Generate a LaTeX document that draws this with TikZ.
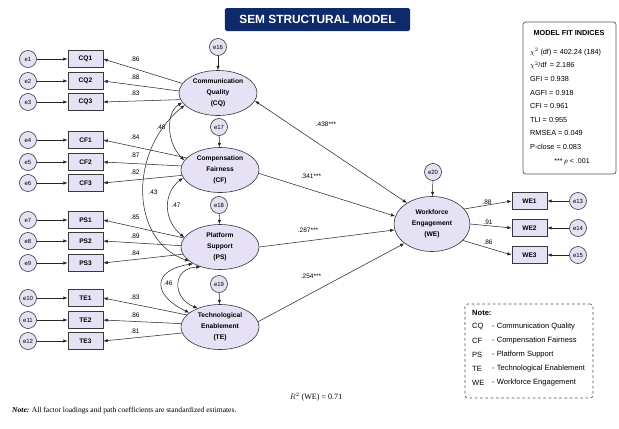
\documentclass[tikz,border=0pt]{standalone}
\usepackage{fontspec}
\setmainfont{Liberation Serif}
\setsansfont{Liberation Sans}
\usetikzlibrary{arrows.meta,shapes.geometric,calc}
\definecolor{lav}{HTML}{E6E1F5}
\definecolor{navy}{HTML}{0E2A6B}
\definecolor{edgec}{HTML}{3A3A3A}
\begin{document}
\begin{tikzpicture}[x=0.04cm,y=-0.04cm,
 >={Latex[length=5pt,width=3.8pt]},
 lat/.style={ellipse,draw=edgec,fill=lav,line width=0.7pt,minimum width=3.12cm,minimum height=1.8cm,inner sep=0pt,align=center,font=\sffamily\bfseries\fontsize{7.6}{12.5}\selectfont},
 obs/.style={rectangle,draw=edgec,fill=lav,line width=0.7pt,minimum width=1.4cm,minimum height=0.7cm,inner sep=0pt,font=\sffamily\bfseries\fontsize{7.5}{8}\selectfont},
 err/.style={circle,draw=edgec,fill=lav,line width=0.7pt,minimum size=0.68cm,inner sep=0pt,font=\sffamily\fontsize{6.8}{7}\selectfont},
 conn/.style={->,line width=0.6pt,draw=black!85},
 cov/.style={<->,line width=0.6pt,draw=black!85},
 lbl/.style={font=\sffamily\fontsize{7.4}{8}\selectfont,inner sep=0pt},
 fittxt/.style={anchor=west,inner sep=0pt,font=\sffamily\fontsize{8.3}{9}\selectfont},
 notetxt/.style={anchor=west,inner sep=0pt,font=\sffamily\fontsize{8.6}{9}\selectfont}
]
\useasboundingbox (0,0) rectangle (619,428);
\fill[white] (0,0) rectangle (619,428);

% title
\node[fill=navy,rounded corners=2pt,minimum width=7.4cm,minimum height=0.92cm,inner sep=0pt,text=white,font=\sffamily\bfseries\fontsize{13.5}{14}\selectfont] (title) at (317.5,19.5) {SEM STRUCTURAL MODEL};

% latent variables
\node[lat] (CQ) at (218,93) {Communication\\Quality\\(CQ)};
\node[lat] (CF) at (220,170) {Compensation\\Fairness\\(CF)};
\node[lat] (PS) at (220,247) {Platform\\Support\\(PS)};
\node[lat] (TE) at (220,327) {Technological\\Enablement\\(TE)};
\node[lat,minimum width=3.04cm,minimum height=2.2cm] (WE) at (432,224) {Workforce\\Engagement\\(WE)};

% disturbances
\node[err] (e16) at (218,47) {e16};
\node[err] (e17) at (219,127) {e17};
\node[err] (e18) at (219,205) {e18};
\node[err] (e19) at (219,284) {e19};
\node[err] (e20) at (433,172) {e20};
\draw[conn] (e16) -- (CQ);
\draw[conn] (e17) -- (CF);
\draw[conn] (e18) -- (PS);
\draw[conn] (e19) -- (TE);
\draw[conn] (e20) -- (WE);

% indicators
\foreach \n/\lab/\yy/\en in {CQ1/CQ1/59/e1,CQ2/CQ2/81/e2,CQ3/CQ3/102/e3,
  CF1/CF1/140/e4,CF2/CF2/162/e5,CF3/CF3/183/e6,
  PS1/PS1/220/e7,PS2/PS2/241/e8,PS3/PS3/263/e9,
  TE1/TE1/298/e10,TE2/TE2/320/e11,TE3/TE3/341/e12}{
  \node[obs] (\n) at (85.5,\yy) {\lab};
  \node[err] (\en) at (28,\yy) {\en};
  \draw[conn] (\en) -- (\n);
}
\foreach \n/\yy/\en in {WE1/201/e13,WE2/228/e14,WE3/255/e15}{
  \node[obs] (\n) at (529.5,\yy) {\n};
  \node[err] (\en) at (578,\yy) {\en};
  \draw[conn] (\en) -- (\n);
}

% loadings
\draw[conn] (CQ.165) -- (CQ1.east);
\draw[conn] (CQ.177) -- (CQ2.east);
\draw[conn] (CQ.190) -- (CQ3.east);
\draw[conn] (CF.160) -- (CF1.east);
\draw[conn] (CF.174) -- (CF2.east);
\draw[conn] (CF.188) -- (CF3.east);
\draw[conn] (PS.166) -- (PS1.east);
\draw[conn] (PS.178) -- (PS2.east);
\draw[conn] (PS.191) -- (PS3.east);
\draw[conn] (TE.160) -- (TE1.east);
\draw[conn] (TE.175) -- (TE2.east);
\draw[conn] (TE.189) -- (TE3.east);
\draw[conn] (WE.25) -- (WE1.west);
\draw[conn] (WE.0) -- (WE2.west);
\draw[conn] (WE.-28) -- (WE3.west);

\node[lbl] (l1) at (135,59) {.86};
\node[lbl] (l2) at (135,77) {.88};
\node[lbl] (l3) at (135,93) {.83};
\node[lbl] (l4) at (135,137) {.84};
\node[lbl] (l5) at (135,155) {.87};
\node[lbl] (l6) at (135,172) {.82};
\node[lbl] (l7) at (135,217) {.85};
\node[lbl] (l8) at (135,236) {.89};
\node[lbl] (l9) at (135,253) {.84};
\node[lbl] (l10) at (135,297) {.83};
\node[lbl] (l11) at (135,315) {.86};
\node[lbl] (l12) at (135,331) {.81};
\node[lbl] (l13) at (487,202) {.88};
\node[lbl] (l14) at (488,222) {.91};
\node[lbl] (l15) at (488,242) {.86};

% structural paths
\draw[cov] (CQ.-12) -- (WE.140);
\draw[conn] (CF.-5) -- (WE.168);
\draw[conn] (PS.0) -- (WE.189);
\draw[conn] (TE.8) -- (WE.215);
\node[lbl] (s1) at (326,124) {.438***};
\node[lbl] (s2) at (311,176) {.341***};
\node[lbl] (s3) at (308,230) {.287***};
\node[lbl] (s4) at (311,276) {.254***};

% covariances
\draw[cov] (CQ.195) .. controls (166,112) and (166,142) .. (CF.165);
\draw[cov] (CF.192) .. controls (163,193) and (163,220) .. (PS.165);
\draw[cov] (CQ.200) .. controls (129,150) and (129,240) .. (PS.205);
\draw[cov] (PS.212) .. controls (152,270) and (152,295) .. (TE.155);
\draw[cov] (PS.226) .. controls (172,268) and (172,298) .. (TE.140);
\node[lbl] (c1) at (161,127) {.48};
\node[lbl] (c2) at (176,205) {.47};
\node[lbl] (c3) at (153,192) {.43};
\node[lbl] (c4) at (168,283) {.46};

% fit box
\node[draw=black!65,line width=0.8pt,rounded corners=3pt,minimum width=3.72cm,minimum height=6.08cm,inner sep=0pt] (fit) at (569.5,98) {};
\node[inner sep=0pt,font=\sffamily\bfseries\fontsize{8.3}{9}\selectfont] (fitt) at (569,33) {MODEL FIT INDICES};
\node[fittxt] (f1) at (530,52) {$\chi^2$ (df) = 402.24 (184)};
\node[fittxt] (f2) at (530,65.5) {$\chi^2$/df \,= 2.186};
\node[fittxt] (f3) at (530,79) {GFI = 0.938};
\node[fittxt] (f4) at (530,92.5) {AGFI = 0.918};
\node[fittxt] (f5) at (530,106) {CFI = 0.961};
\node[fittxt] (f6) at (530,119.5) {TLI = 0.955};
\node[fittxt] (f7) at (530,133) {RMSEA = 0.049};
\node[fittxt] (f8) at (530,146.5) {P-close = 0.083};
\node[inner sep=0pt,font=\sffamily\fontsize{8}{9}\selectfont] (f9) at (572,162) {*** \textrm{\textit{p}} < .001};

% note box
\node[draw=black!70,dashed,line width=0.7pt,rounded corners=3pt,minimum width=5.12cm,minimum height=3.76cm,inner sep=0pt] (nb) at (529,351) {};
\node[notetxt,font=\sffamily\bfseries\fontsize{8.6}{9}\selectfont] (nt) at (472,313) {Note:};
\foreach \a/\t/\yy [count=\i] in {CQ/Communication Quality/327,CF/Compensation Fairness/341,PS/Platform Support/355,TE/Technological Enablement/369,WE/Workforce Engagement/383}{
  \node[notetxt] (na\i) at (472,\yy) {\a};
  \node[notetxt] (nd\i) at (492,\yy) {- \t};
}

% bottom texts
\node[anchor=west,inner sep=0pt,font=\rmfamily\fontsize{8.6}{9}\selectfont] (foot) at (12,411) {\textbf{\textit{Note:}} All factor loadings and path coefficients are standardized estimates.};
\node[inner sep=0pt,font=\rmfamily\fontsize{9.2}{10}\selectfont] (r2) at (316,397) {$R^2$ (WE) = 0.71};
\end{tikzpicture}
\end{document}
